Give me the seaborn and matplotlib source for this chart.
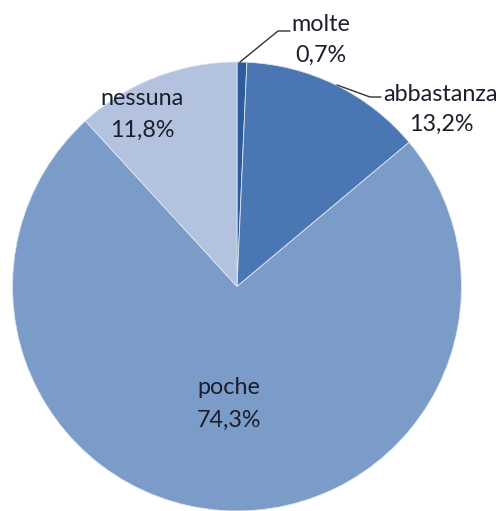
import matplotlib
matplotlib.use("Agg")
import matplotlib.pyplot as plt
import seaborn as sns

categories = ["molte", "abbastanza", "poche", "nessuna"]
shares = [0.7, 13.2, 74.3, 11.8]
label_texts = ["0,7%", "13,2%", "74,3%", "11,8%"]
slice_colors = ["#2d5c9c", "#4a77b3", "#7b9bc9", "#b3c3df"]

sns.set_theme(style="white")
plt.rcParams["font.family"] = ["Lato", "DejaVu Sans"]

W, H = 503, 511
fig = plt.figure(figsize=(W / 100, H / 100), dpi=100)
ax = fig.add_axes([0, 0, 1, 1])

cx, cy, r = 237, H - 286.5, 224.5
wedges, _ = ax.pie(
    shares, colors=slice_colors, startangle=90, counterclock=False,
    center=(cx, cy), radius=r, frame=True,
    wedgeprops=dict(edgecolor="#dfe6f1", linewidth=0.6),
)
ax.set_xlim(0, W)
ax.set_ylim(0, H)
ax.set_aspect("equal")
ax.axis("off")

txt = "#1c1f2b"
fs = 16.8

# label placement (pixel coordinates, origin top-left)
label_pos = {
    "molte": (321, 24, 321, 55),
    "abbastanza": (441, 94, 441, 124),
    "poche": (229, 387, 229, 420),
    "nessuna": (142, 98, 142, 130),
}
for name, pct in zip(categories, label_texts):
    x1, y1, x2, y2 = label_pos[name]
    ax.text(x1, H - y1, name, ha="center", va="center", fontsize=fs, color=txt)
    ax.text(x2, H - y2, pct, ha="center", va="center", fontsize=fs, color=txt)

# leader lines for the small slices
ax.plot([240, 278, 290], [H - 62, H - 31, H - 31], color="#333333", lw=1.0)
ax.plot([337, 370, 381], [H - 85, H - 97, H - 97], color="#333333", lw=1.0)

fig.savefig("out.png", dpi=100, facecolor="white")
